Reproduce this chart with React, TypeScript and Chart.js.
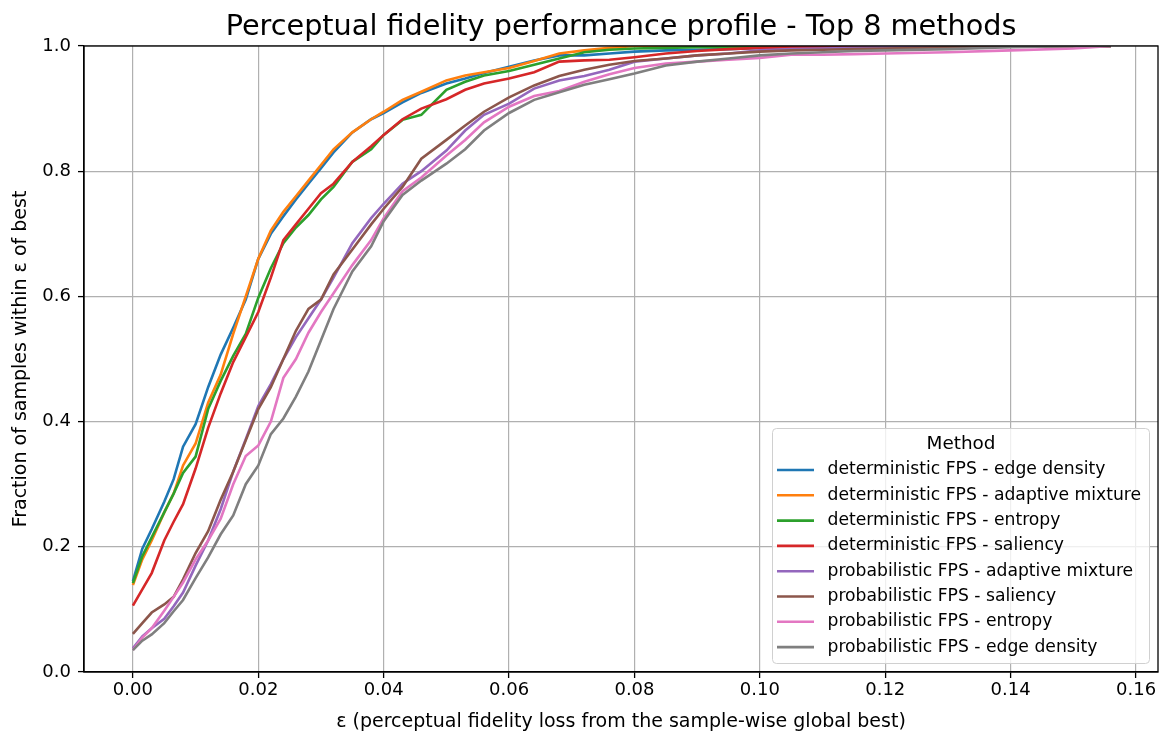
import React, { useEffect, useRef } from 'react';
import { Chart, registerables } from 'chart.js';

Chart.register(...registerables);

const TITLE = 'Perceptual fidelity performance profile - Top 8 methods';
const X_LABEL = 'ε (perceptual fidelity loss from the sample-wise global best)';
const Y_LABEL = 'Fraction of samples within ε of best';
const LEGEND_TITLE = 'Method';

const X_TICKS = [0, 0.02, 0.04, 0.06, 0.08, 0.1, 0.12, 0.14, 0.16];
const Y_TICKS = [0, 0.2, 0.4, 0.6, 0.8, 1.0];

const EPS = [
  0, 0.0015, 0.003, 0.005, 0.0065, 0.008,
  0.01, 0.012, 0.014, 0.016, 0.018, 0.02, 0.022, 0.024, 0.026, 0.028, 0.03, 0.032,
  0.035, 0.038, 0.04, 0.043, 0.046, 0.05, 0.053, 0.056,
  0.06, 0.064, 0.068, 0.072, 0.076, 0.08,
  0.085, 0.09, 0.095, 0.1, 0.105, 0.11, 0.115, 0.12,
  0.13, 0.14, 0.15, 0.156,
];

const DET_EDGE = [
  0.145, 0.197, 0.228, 0.272, 0.308, 0.36,
  0.396, 0.455, 0.507, 0.55, 0.595, 0.66, 0.7, 0.728, 0.755, 0.78, 0.805, 0.83,
  0.862, 0.883, 0.893, 0.91, 0.925, 0.94, 0.948, 0.957,
  0.967, 0.977, 0.985, 0.985, 0.988, 0.991,
  0.993, 0.994, 0.995, 0.997, 0.998, 0.999, 1, 1,
  1, 1, 1, 1,
];
const DET_ADAPTIVE = [
  0.139, 0.18, 0.21, 0.255, 0.285, 0.33,
  0.365, 0.43, 0.475, 0.54, 0.6, 0.66, 0.705, 0.735, 0.76, 0.785, 0.81, 0.835,
  0.862, 0.883, 0.895, 0.914, 0.927, 0.945, 0.953, 0.958,
  0.965, 0.976, 0.988, 0.993, 0.997, 1,
  1, 1, 1, 1, 1, 1, 1, 1,
  1, 1, 1, 1,
];
const DET_ENTROPY = [
  0.142, 0.185, 0.215, 0.255, 0.285, 0.318,
  0.344, 0.42, 0.465, 0.505, 0.54, 0.598, 0.645, 0.685, 0.71, 0.73, 0.755, 0.775,
  0.815, 0.835, 0.858, 0.882, 0.89, 0.93, 0.943, 0.953,
  0.96, 0.97, 0.98, 0.99, 0.994, 0.996,
  0.997, 0.998, 0.998, 0.999, 0.999, 1, 1, 1,
  1, 1, 1, 1,
];
const DET_SALIENCY = [
  0.106, 0.132, 0.158, 0.21, 0.24, 0.268,
  0.325, 0.39, 0.445, 0.495, 0.535, 0.575, 0.63, 0.69, 0.715, 0.74, 0.765, 0.78,
  0.815, 0.84, 0.858, 0.883, 0.9, 0.915, 0.93, 0.94,
  0.948, 0.958, 0.975, 0.977, 0.978, 0.982,
  0.988, 0.992, 0.995, 0.997, 0.998, 0.999, 1, 1,
  1, 1, 1, 1,
];
const PROB_ADAPTIVE = [
  0.038, 0.057, 0.07, 0.085, 0.105, 0.127,
  0.17, 0.21, 0.26, 0.32, 0.372, 0.425, 0.46, 0.5, 0.535, 0.565, 0.595, 0.63,
  0.685, 0.725, 0.748, 0.78, 0.8, 0.833, 0.865, 0.89,
  0.908, 0.932, 0.945, 0.952, 0.962, 0.975,
  0.98, 0.985, 0.988, 0.993, 0.995, 0.996, 0.997, 0.998,
  0.999, 1, 1, 1,
];
const PROB_SALIENCY = [
  0.061, 0.078, 0.095, 0.108, 0.12, 0.148,
  0.19, 0.225, 0.275, 0.32, 0.37, 0.42, 0.455, 0.5, 0.545, 0.58, 0.595, 0.635,
  0.675, 0.715, 0.74, 0.775, 0.82, 0.85, 0.873, 0.895,
  0.918, 0.937, 0.952, 0.962, 0.97, 0.976,
  0.98, 0.985, 0.988, 0.991, 0.993, 0.994, 0.995, 0.996,
  0.998, 1, 1, 1,
];
const PROB_ENTROPY = [
  0.035, 0.055, 0.07, 0.098, 0.12, 0.143,
  0.18, 0.21, 0.245, 0.3, 0.345, 0.362, 0.4, 0.47, 0.5, 0.542, 0.575, 0.605,
  0.65, 0.69, 0.725, 0.768, 0.79, 0.825, 0.85, 0.878,
  0.903, 0.92, 0.928, 0.943, 0.955, 0.965,
  0.972, 0.975, 0.978, 0.981, 0.986, 0.986, 0.987, 0.988,
  0.99, 0.993, 0.996, 1,
];
const PROB_EDGE = [
  0.035, 0.05, 0.06, 0.078, 0.097, 0.115,
  0.15, 0.183, 0.22, 0.25, 0.3, 0.33, 0.38, 0.405, 0.44, 0.48, 0.53, 0.58,
  0.64, 0.68, 0.72, 0.762, 0.785, 0.812, 0.835, 0.865,
  0.893, 0.914, 0.926, 0.938, 0.947, 0.956,
  0.969, 0.975, 0.98, 0.985, 0.988, 0.99, 0.992, 0.993,
  0.995, 0.998, 1, 1,
];

const METHODS = [
  'deterministic FPS - edge density',
  'deterministic FPS - adaptive mixture',
  'deterministic FPS - entropy',
  'deterministic FPS - saliency',
  'probabilistic FPS - adaptive mixture',
  'probabilistic FPS - saliency',
  'probabilistic FPS - entropy',
  'probabilistic FPS - edge density',
];
const SERIES = [
  DET_EDGE, DET_ADAPTIVE, DET_ENTROPY, DET_SALIENCY,
  PROB_ADAPTIVE, PROB_SALIENCY, PROB_ENTROPY, PROB_EDGE,
];
const COLORS = [
  '#1f77b4', '#ff7f0e', '#2ca02c', '#d62728',
  '#9467bd', '#8c564b', '#e377c2', '#7f7f7f',
];

const FONT = "'DejaVu Sans', sans-serif";

const decorPlugin = {
  id: 'decor',
  afterDatasetsDraw(chart: any) {
    const { ctx, chartArea } = chart;
    ctx.save();
    ctx.strokeStyle = '#000';
    ctx.lineWidth = 1.3;
    ctx.strokeRect(chartArea.left, chartArea.top, chartArea.right - chartArea.left, chartArea.bottom - chartArea.top);
    ctx.restore();
  },
  afterDraw(chart: any) {
    const { ctx, chartArea } = chart;
    ctx.save();
    // title
    ctx.fillStyle = '#000';
    ctx.font = `28.7px ${FONT}`;
    ctx.textAlign = 'center';
    ctx.textBaseline = 'alphabetic';
    ctx.fillText(TITLE, (chartArea.left + chartArea.right) / 2, 35);

    // legend
    const x0 = 772.5, y0 = 428.5, w = 377, h = 235, r = 4;
    ctx.beginPath();
    ctx.moveTo(x0 + r, y0);
    ctx.lineTo(x0 + w - r, y0);
    ctx.quadraticCurveTo(x0 + w, y0, x0 + w, y0 + r);
    ctx.lineTo(x0 + w, y0 + h - r);
    ctx.quadraticCurveTo(x0 + w, y0 + h, x0 + w - r, y0 + h);
    ctx.lineTo(x0 + r, y0 + h);
    ctx.quadraticCurveTo(x0, y0 + h, x0, y0 + h - r);
    ctx.lineTo(x0, y0 + r);
    ctx.quadraticCurveTo(x0, y0, x0 + r, y0);
    ctx.closePath();
    ctx.fillStyle = 'rgba(255,255,255,0.8)';
    ctx.fill();
    ctx.strokeStyle = '#d0d0d0';
    ctx.lineWidth = 1;
    ctx.stroke();

    ctx.fillStyle = '#000';
    ctx.font = `18.4px ${FONT}`;
    ctx.textAlign = 'center';
    ctx.textBaseline = 'middle';
    ctx.fillText(LEGEND_TITLE, x0 + w / 2, 444);

    ctx.font = `17.2px ${FONT}`;
    ctx.textAlign = 'left';
    METHODS.forEach((m, i) => {
      const y = 470 + i * 25.3;
      ctx.strokeStyle = COLORS[i];
      ctx.lineWidth = 2.6;
      ctx.beginPath();
      ctx.moveTo(777, y);
      ctx.lineTo(814, y);
      ctx.stroke();
      ctx.fillStyle = '#000';
      ctx.fillText(m, 827.5, y);
    });
    ctx.restore();
  },
};

export default function App() {
  const ref = useRef<HTMLCanvasElement | null>(null);

  useEffect(() => {
    if (!ref.current) return;
    const datasets = SERIES.map((vals, i) => ({
      label: METHODS[i],
      data: EPS.map((x, j) => ({ x, y: vals[j] })),
      borderColor: COLORS[i],
      backgroundColor: COLORS[i],
      borderWidth: 2.6,
      pointRadius: 0,
      tension: 0,
      fill: false,
      order: SERIES.length - i,
    }));
    const chart = new Chart(ref.current, {
      type: 'line',
      data: { datasets },
      plugins: [decorPlugin],
      options: {
        animation: false,
        responsive: false,
        devicePixelRatio: 1,
        layout: { padding: { top: 46, right: 3, left: 0, bottom: 0 } },
        plugins: {
          legend: { display: false },
          tooltip: { enabled: false },
          title: { display: false },
        },
        scales: {
          x: {
            type: 'linear',
            min: -0.0078,
            max: 0.1635,
            afterBuildTicks: (scale: any) => {
              scale.ticks = X_TICKS.map((v) => ({ value: v }));
            },
            afterFit: (scale: any) => {
              scale.height = 61;
              scale.paddingLeft = 0;
              scale.paddingRight = 0;
            },
            ticks: {
              color: '#000',
              font: { family: FONT, size: 18 },
              padding: 2,
              maxRotation: 0,
              autoSkip: false,
              callback: (v: any) => Number(v).toFixed(2),
            },
            grid: {
              color: '#b0b0b0',
              lineWidth: 1.2,
              tickLength: 6,
              tickColor: '#000',
              tickWidth: 1.3,
            },
            border: { display: true, color: '#000', width: 1.3 },
            title: {
              display: true,
              text: X_LABEL,
              color: '#000',
              font: { family: FONT, size: 19 },
              padding: { top: 0, bottom: 0 },
            },
          },
          y: {
            type: 'linear',
            min: 0,
            max: 1,
            afterBuildTicks: (scale: any) => {
              scale.ticks = Y_TICKS.map((v) => ({ value: v }));
            },
            afterFit: (scale: any) => {
              scale.width = 84;
              scale.paddingTop = 0;
              scale.paddingBottom = 0;
            },
            ticks: {
              color: '#000',
              font: { family: FONT, size: 18 },
              padding: 7,
              autoSkip: false,
              callback: (v: any) => Number(v).toFixed(1),
            },
            grid: {
              color: '#b0b0b0',
              lineWidth: 1.2,
              tickLength: 6,
              tickColor: '#000',
              tickWidth: 1.3,
            },
            border: { display: true, color: '#000', width: 1.3 },
            title: {
              display: true,
              text: Y_LABEL,
              color: '#000',
              font: { family: FONT, size: 19 },
              padding: { top: 10, bottom: 0 },
            },
          },
        },
      },
    } as any);
    return () => chart.destroy();
  }, []);

  return (
    <div style={{ position: 'fixed', left: 0, top: 0, width: 1161, height: 733, background: '#fff' }}>
      <canvas ref={ref} width={1161} height={733} style={{ display: 'block' }} />
    </div>
  );
}
